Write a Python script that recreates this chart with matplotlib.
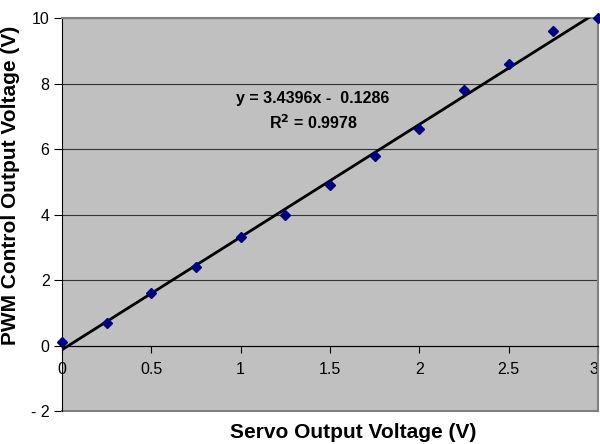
import matplotlib.pyplot as plt
import numpy as np

plt.rcParams['font.family'] = ['Liberation Sans', 'DejaVu Sans']

servo_v = [0, 0.25, 0.5, 0.75, 1.0, 1.25, 1.5, 1.75, 2.0, 2.25, 2.5, 2.75, 3.0]
pwm_v = [0.1, 0.7, 1.6, 2.4, 3.3, 4.0, 4.9, 5.8, 6.6, 7.8, 8.6, 9.6, 10.0]
slope = 3.4396
intercept = -0.1286
x_ticks = [0, 0.5, 1, 1.5, 2, 2.5, 3]
x_labels = ['0', '0.5', '1', '1.5', '2', '2.5', '3']
y_ticks = [-2, 0, 2, 4, 6, 8, 10]
y_labels = ['- 2', '0', '2', '4', '6', '8', '10']

fig = plt.figure(figsize=(6, 4.44), dpi=100)
ax = fig.add_axes([62/600, 1 - 411/444, 536/600, 393/444])
ax.set_facecolor('#C0C0C0')

for yv in y_ticks[1:]:
    ax.axhline(yv, color='#333333', lw=0.8, zorder=1)

xs = np.array([0, 3])
ax.plot(xs, slope * xs + intercept, color='black', lw=2, zorder=3)
ax.plot(servo_v, pwm_v, 'D', color='#000080', ms=5, zorder=4, clip_on=False)

ax.set_xlim(0, 3)
ax.set_ylim(-2, 10)
ax.spines['bottom'].set_position(('data', 0))
ax.spines['bottom'].set_color('black')
ax.spines['left'].set_color('black')
for s in ['top', 'right']:
    ax.spines[s].set_color('#808080')
    ax.spines[s].set_linewidth(1.5)
ax.axhline(-2, color='#808080', lw=1.5, clip_on=False, zorder=2)

ax.set_xticks(x_ticks)
ax.set_xticklabels(x_labels)
ax.set_yticks(y_ticks)
ax.set_yticklabels(y_labels)
ax.tick_params(axis='x', direction='out', length=5, pad=7, labelsize=11.5)
ax.tick_params(axis='y', direction='out', length=6, pad=3, labelsize=11.5)
# last x label would run off the right edge
ax.get_xticklabels()[-1].set_horizontalalignment('right')

ax.text(1.405, 7.55, 'y = 3.4396x -  0.1286', ha='center', va='center',
        fontsize=11.5, fontweight='bold')
ax.text(1.405, 6.8, 'R$^{\\mathbf{2}}$ = 0.9978', ha='center', va='center',
        fontsize=11.5, fontweight='bold')

fig.text(353/600, 6/444, 'Servo Output Voltage (V)', ha='center', va='baseline',
         fontsize=15, fontweight='bold')
fig.text(1/600, 1 - 185/444, 'PWM Control Output Voltage (V)', ha='left', va='center',
         rotation=90, fontsize=15, fontweight='bold')

fig.savefig('out.png', dpi=100)
